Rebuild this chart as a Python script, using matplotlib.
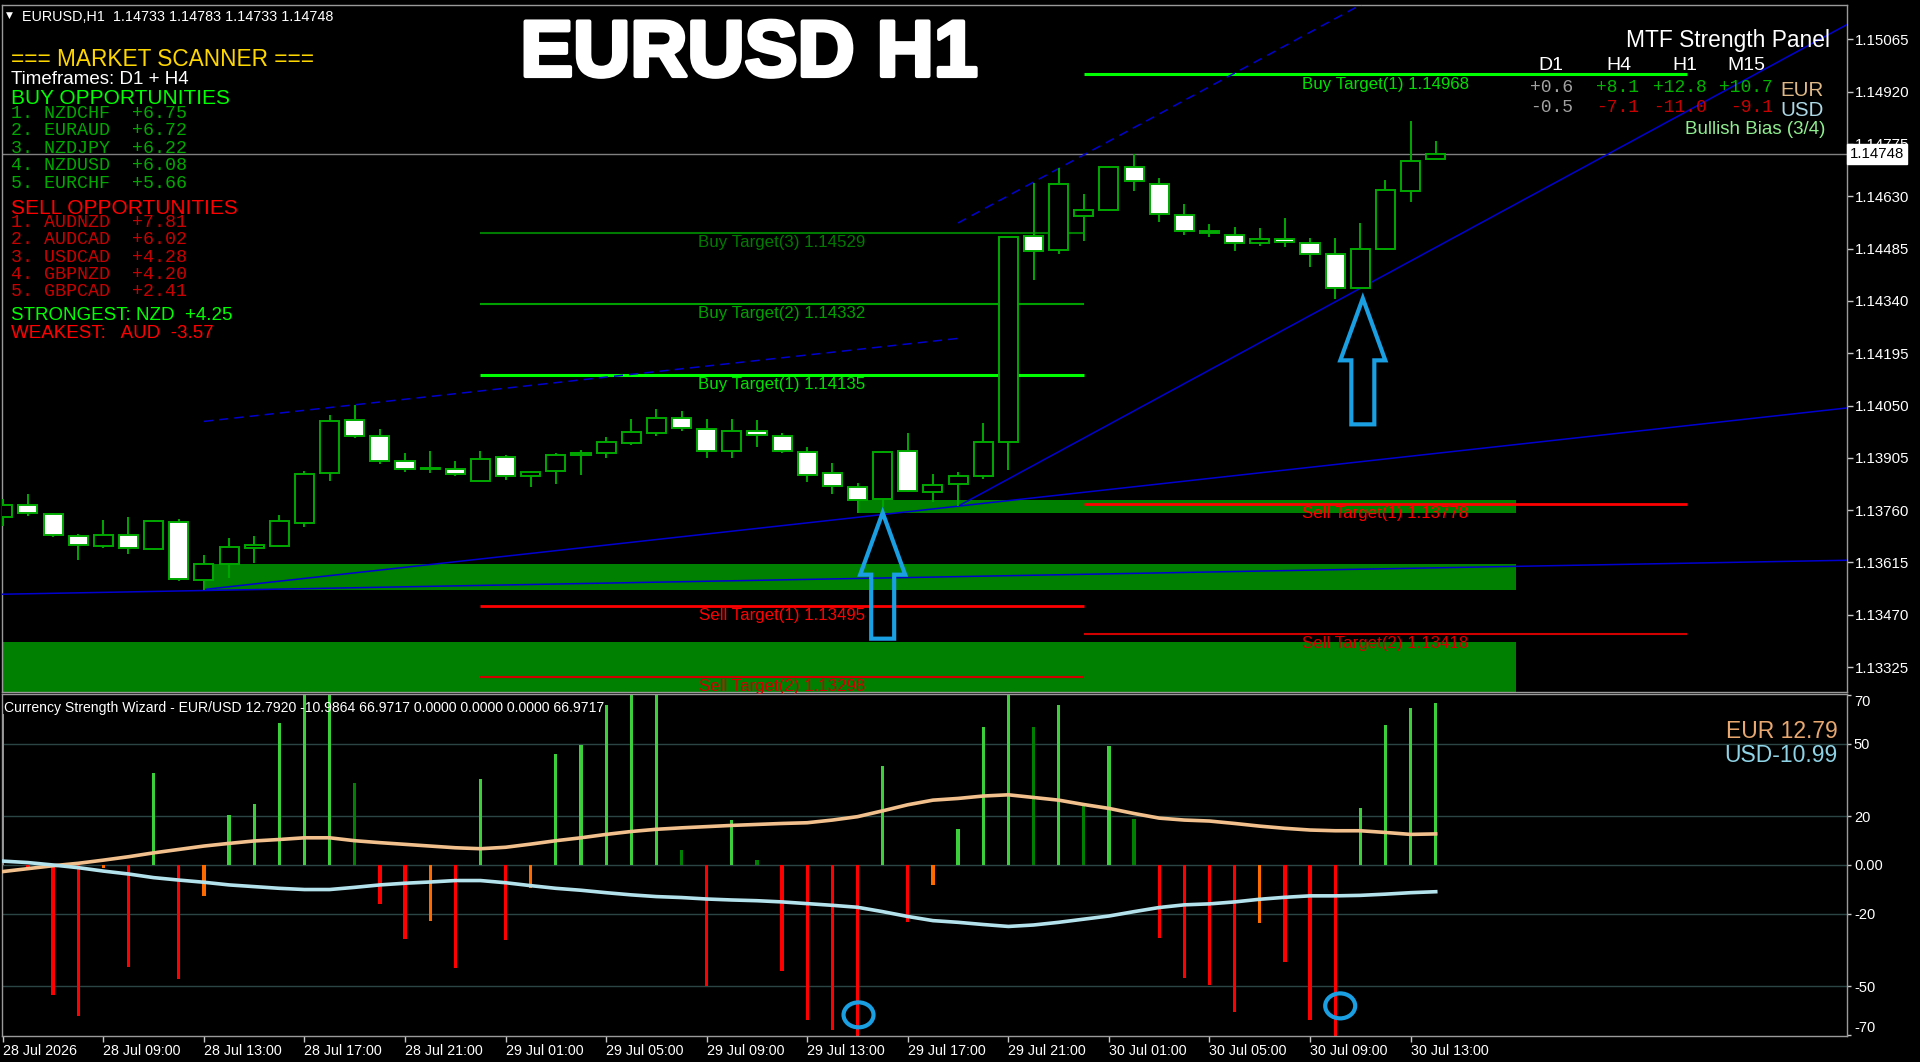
import matplotlib
matplotlib.use('Agg')
import matplotlib.pyplot as plt
from matplotlib.patches import Polygon, Ellipse
import matplotlib.patheffects as pe
import numpy as np

# ---------------- data ----------------
opens = [1.13740, 1.13774, 1.13748, 1.13689, 1.13662, 1.13692, 1.13652, 1.13728, 1.13566, 1.13612,
         1.13656, 1.13662, 1.13723, 1.13862, 1.14010, 1.13965, 1.13897, 1.13873, 1.13875, 1.13842,
         1.13908, 1.13855, 1.13868, 1.13912, 1.13918, 1.13947, 1.13973, 1.14014, 1.13986, 1.13923,
         1.13979, 1.13966, 1.13921, 1.13862, 1.13825, 1.13790, 1.13923, 1.13811, 1.13833, 1.13855,
         1.13948, 1.14520, 1.14480, 1.14575, 1.14591, 1.14712, 1.14664, 1.14578, 1.14534, 1.14523,
         1.14500, 1.14511, 1.14500, 1.14470, 1.14377, 1.14484, 1.14645, 1.14733]
highs = [1.13790, 1.13805, 1.13751, 1.13694, 1.13734, 1.13741, 1.13733, 1.13736, 1.13636, 1.13684,
         1.13688, 1.13746, 1.13869, 1.14024, 1.14052, 1.13985, 1.13919, 1.13924, 1.13896, 1.13924,
         1.13912, 1.13869, 1.13917, 1.13928, 1.13964, 1.14012, 1.14039, 1.14035, 1.14012, 1.14013,
         1.14009, 1.13975, 1.13934, 1.13890, 1.13836, 1.13925, 1.13975, 1.13860, 1.13866, 1.14002,
         1.14521, 1.14668, 1.14707, 1.14636, 1.14714, 1.14747, 1.14681, 1.14609, 1.14553, 1.14544,
         1.14541, 1.14569, 1.14515, 1.14513, 1.14555, 1.14675, 1.14839, 1.14783]
lows = [1.13716, 1.13744, 1.13686, 1.13622, 1.13654, 1.13638, 1.13649, 1.13564, 1.13540, 1.13571,
        1.13614, 1.13660, 1.13714, 1.13842, 1.13961, 1.13888, 1.13865, 1.13863, 1.13855, 1.13842,
        1.13843, 1.13825, 1.13832, 1.13857, 1.13905, 1.13941, 1.13966, 1.13979, 1.13905, 1.13905,
        1.13936, 1.13917, 1.13837, 1.13806, 1.13751, 1.13770, 1.13810, 1.13783, 1.13771, 1.13845,
        1.13870, 1.14398, 1.14469, 1.14506, 1.14590, 1.14645, 1.14559, 1.14522, 1.14516, 1.14479,
        1.14492, 1.14490, 1.14433, 1.14345, 1.14375, 1.14481, 1.14615, 1.14733]
closes = [1.13774, 1.13751, 1.13691, 1.13663, 1.13692, 1.13654, 1.13729, 1.13569, 1.13611, 1.13657,
          1.13664, 1.13729, 1.13860, 1.14006, 1.13965, 1.13896, 1.13873, 1.13878, 1.13860, 1.13901,
          1.13855, 1.13867, 1.13912, 1.13917, 1.13950, 1.13976, 1.14014, 1.13989, 1.13923, 1.13980,
          1.13969, 1.13923, 1.13857, 1.13827, 1.13788, 1.13921, 1.13814, 1.13831, 1.13854, 1.13948,
          1.14516, 1.14478, 1.14665, 1.14591, 1.14710, 1.14672, 1.14582, 1.14534, 1.14528, 1.14500,
          1.14511, 1.14502, 1.14469, 1.14377, 1.14485, 1.14647, 1.14729, 1.14748]

time_tick_bars = [0, 4, 8, 12, 16, 20, 24, 28, 32, 36, 40, 44, 48, 52, 56]
time_tick_labels = ["28 Jul 2026", "28 Jul 09:00", "28 Jul 13:00", "28 Jul 17:00", "28 Jul 21:00",
                    "29 Jul 01:00", "29 Jul 05:00", "29 Jul 09:00", "29 Jul 13:00", "29 Jul 17:00",
                    "29 Jul 21:00", "30 Jul 01:00", "30 Jul 05:00", "30 Jul 09:00", "30 Jul 13:00"]

price_ticks = [1.15065, 1.14920, 1.14775, 1.14630, 1.14485, 1.14340, 1.14195, 1.14050,
               1.13905, 1.13760, 1.13615, 1.13470, 1.13325]
last_price = 1.14748

# strength histogram (one bar per candle) and its kind
hist_vals = [62, -1.5, -53.4, -62.3, -1.4, -41.8, 38, -47, -12.6, 20.5,
             25.3, 58.6, 78, 78, 33.8, -16.2, -30.5, -22.9, -42.6, 35.6,
             -31, -9.6, 45.9, 49.3, 66, 78, 78, 6.2, -49.7, 18.5,
             2, -43.8, -64, -68, -78, 40.7, -23.6, -8.2, 15, 57,
             78, 56.8, 66, 25, 49, 18.8, -30, -46.6, -49.5, -60.7,
             -24, -40, -64, -78, 23.6, 57.5, 64.7, 66.8]
hist_kind = ['up', 'dn', 'dn', 'dn', 'dnw', 'dn', 'up', 'dn', 'dnw', 'up',
             'up', 'up', 'up', 'up', 'upw', 'dn', 'dn', 'dnw', 'dn', 'up',
             'dn', 'dnw', 'up', 'up', 'up', 'up', 'up', 'upw', 'dn', 'up',
             'upw', 'dn', 'dn', 'dn', 'dn', 'up', 'dn', 'dnw', 'up', 'up',
             'up', 'upw', 'up', 'upw', 'up', 'upw', 'dn', 'dn', 'dn', 'dn',
             'dnw', 'dn', 'dn', 'dn', 'up', 'up', 'up', 'up']
eur_line = [-2.7, -1.5, -0.3, 0.7, 2.0, 3.4, 5.0, 6.4, 7.8, 8.9, 9.9, 10.5, 11.2, 11.2, 10.0, 9.2,
            8.5, 7.8, 7.1, 6.7, 7.3, 8.6, 10.0, 11.2, 12.6, 13.8, 14.7, 15.3, 15.8, 16.3, 16.7, 17.1,
            17.4, 18.5, 19.9, 22.3, 24.8, 26.7, 27.4, 28.4, 28.9, 27.8, 26.7, 24.9, 23.3, 21.2, 19.3,
            18.5, 18.1, 17.1, 16.0, 15.1, 14.4, 14.1, 14.1, 13.4, 12.6, 12.8]
usd_line = [1.6, 1.0, 0.0, -1.1, -2.5, -3.7, -5.2, -6.2, -7.1, -8.2, -8.9, -9.6, -10.1, -10.1, -9.2,
            -8.2, -7.5, -7.0, -6.4, -6.4, -7.3, -8.5, -9.6, -10.4, -11.4, -12.3, -13.0, -13.4, -14.0,
            -14.4, -14.7, -15.2, -15.9, -16.6, -17.4, -19.2, -21.2, -22.9, -23.6, -24.5, -25.3, -24.7,
            -23.6, -22.3, -21.0, -19.2, -17.5, -16.4, -16.0, -15.2, -14.1, -13.3, -12.7, -12.7, -12.5,
            -12.0, -11.4, -11.0]
sub_ticks = [70, 50, 20, 0, -20, -50, -70]
sub_tick_labels = ["70", "50", "20", "0.00", "-20", "-50", "-70"]

# target lines: label, price, start bar, end bar, style key
targets = [("Buy Target(3) 1.14529", 1.14529, 19, 43, 'b3'),
           ("Buy Target(2) 1.14332", 1.14332, 19, 43, 'b2'),
           ("Buy Target(1) 1.14135", 1.14135, 19, 43, 'b1'),
           ("Sell Target(1) 1.13495", 1.13495, 19, 43, 's1'),
           ("Sell Target(2) 1.13298", 1.13298, 19, 43, 's2'),
           ("Buy Target(1) 1.14968", 1.14968, 43, 67, 'b1'),
           ("Sell Target(1) 1.13778", 1.13778, 43, 67, 's1'),
           ("Sell Target(2) 1.13418", 1.13418, 43, 67, 's2')]

# support zones
zone_start = [34, 8, -3]
zone_end = [60.2, 60.2, 60.2]
zone_lo = [1.13751, 1.13540, 1.13200]
zone_hi = [1.13787, 1.13612, 1.13394]

# trend lines: bar1, price1, bar2, price2, start bar, end bar (None = right edge), dashed
trend_lines = [(0, 1.13527, 60, 1.13604, -2, None, False),
               (8, 1.13540, 38, 1.13771, 8, None, False),
               (38, 1.13771, 54, 1.14375, 38, None, False),
               (8, 1.14006, 14, 1.14052, 8, 38, True),
               (38, 1.14556, 42, 1.14707, 38, None, True)]

# signal arrows (bar, tip price) and strength circles (bar, value)
arrow_bars = [35, 54.1]
arrow_tips = [1.13753, 1.14347]
circle_bars = [34.04, 53.2]
circle_vals = [-61.7, -58.0]

buy_list = ["1. NZDCHF  +6.75", "2. EURAUD  +6.72", "3. NZDJPY  +6.22", "4. NZDUSD  +6.08", "5. EURCHF  +5.66"]
sell_list = ["1. AUDNZD  +7.81", "2. AUDCAD  +6.02", "3. USDCAD  +4.28", "4. GBPNZD  +4.20", "5. GBPCAD  +2.41"]
mtf_cols = ["D1", "H4", "H1", "M15"]
mtf_eur = ["+0.6", "+8.1", "+12.8", "+10.7"]
mtf_usd = ["-0.5", "-7.1", "-11.0", "-9.1"]

# ---------------- figure ----------------
W, H = 1920, 1062
fig = plt.figure(figsize=(W / 100, H / 100), dpi=100, facecolor='black')
SANS = ['Liberation Sans', 'DejaVu Sans']
MONO = ['Liberation Mono', 'DejaVu Sans Mono']


def add_ax(x0, y0, x1, y1):
    a = fig.add_axes([x0 / W, 1 - y1 / H, (x1 - x0) / W, (y1 - y0) / H])
    a.set_facecolor('black')
    for s in a.spines.values():
        s.set_color('#9a9a9a')
        s.set_linewidth(1)
    return a


def ftext(x, y, s, **kw):
    kw.setdefault('va', 'center')
    kw.setdefault('family', SANS)
    return fig.text(x / W, 1 - y / H, s, **kw)


ax = add_ax(2, 5, 1847, 692)
ax2 = add_ax(2, 694, 1847, 1036)
XL, XR = -0.032, 73.36
YB, YT = 1.13256, 1.15160
for a in (ax, ax2):
    a.set_xlim(XL, XR)
ax.set_ylim(YB, YT)
ax2.set_ylim(-70.4, 70.4)

xpx = (XR - XL) / 1845.0
ppx = (YT - YB) / 687.0

x = np.arange(len(opens))
o = np.array(opens); c = np.array(closes); h = np.array(highs); l = np.array(lows)

# zones
for zs, ze, zl, zh in zip(zone_start, zone_end, zone_lo, zone_hi):
    ax.fill_between([zs, ze], zl, zh, color='#008000', lw=0, zorder=1)

# bid line
ax.axhline(last_price, color='#808080', lw=1, zorder=1.5)

# target lines
tstyle = {'b3': ('#007a00', 1.5, '#007a00'), 'b2': ('#00a000', 1.5, '#00a000'),
          'b1': ('#00ff00', 2.2, '#00e000'), 's1': ('#ff0000', 2.0, '#ff0000'),
          's2': ('#d00000', 1.5, '#d00000')}
for lab, p, xs, xe, key in targets:
    col, lw, tcol = tstyle[key]
    ax.hlines(p, xs, xe, color=col, lw=lw, zorder=3)
    ax.annotate(lab, xy=((xs + xe) / 2, p), xytext=(0, -10), textcoords='offset pixels',
                ha='center', va='center', color=tcol, fontsize=12.2, family=SANS, zorder=3)

# trend lines
for b1, p1, b2, p2, xs, xe, dashed in trend_lines:
    slope = (p2 - p1) / (b2 - b1)
    xx = np.array([xs, XR if xe is None else xe])
    yy = p1 + slope * (xx - b1)
    ax.plot(xx, yy, color='#0000d0', lw=1.1, zorder=3.5,
            ls=(0, (6, 4)) if dashed else '-')

# candles
edge = '#00a800'
ax.vlines(x, l, h, color=edge, lw=1.4, zorder=4)
bh = np.maximum(np.abs(c - o), 0.00004)
ax.bar(x, bh, bottom=np.minimum(o, c), width=0.76,
       color=['black' if cc >= oo else 'white' for oo, cc in zip(o, c)],
       edgecolor=edge, linewidth=1.4, zorder=5)

# arrows
arrow_shape = [(0, 0), (22.5, -62), (11.5, -62), (11.5, -126), (-11.5, -126), (-11.5, -62), (-22.5, -62)]
for ab, at in zip(arrow_bars, arrow_tips):
    pts = [(ab + dx * xpx, at + dy * ppx) for dx, dy in arrow_shape]
    ax.add_patch(Polygon(pts, closed=True, fill=False, edgecolor='#1a9fe3', lw=3, zorder=6,
                         joinstyle='miter'))

# y axis main
ax.yaxis.tick_right()
ax.set_yticks(price_ticks)
ax.set_yticklabels([f"{v:.5f}" for v in price_ticks])
ax.tick_params(axis='y', direction='out', length=4, width=1, color='#c8c8c8', labelcolor='white',
               labelsize=10.8, pad=2)
for t in ax.get_yticklabels():
    t.set_family(SANS)
ax.set_xticks([])

# ---------------- lower panel ----------------
for v in [50, 20, 0, -20, -50]:
    ax2.axhline(v, color='#2b4545', lw=1, zorder=0.5)
hcol = {'up': '#3ccf3c', 'upw': '#008000', 'dn': '#ff0000', 'dnw': '#ff6a00'}
ax2.bar(x, hist_vals, width=0.13, color=[hcol[k] for k in hist_kind], zorder=2)
ax2.plot(x, eur_line, color='#f2c08c', lw=2.6, zorder=3, solid_joinstyle='round')
ax2.plot(x, usd_line, color='#b4e2ec', lw=2.6, zorder=3, solid_joinstyle='round')
for cb, cv in zip(circle_bars, circle_vals):
    ax2.add_patch(Ellipse((cb, cv), width=30 * xpx, height=25 / 2.43, fill=False,
                          edgecolor='#1a9fe3', lw=3, zorder=4))

ax2.yaxis.tick_right()
ax2.set_yticks(sub_ticks)
ax2.set_yticklabels(sub_tick_labels)
ax2.tick_params(axis='y', direction='out', length=3, width=1, color='#c8c8c8', labelcolor='white',
                labelsize=10.5, pad=2)
ticks = ax2.yaxis.get_major_ticks()
for tk, v in zip(ticks, sub_ticks):
    tk.label2.set_family(SANS)
    if v == 70:
        tk.label2.set_va('top')
    elif v == -70:
        tk.label2.set_va('bottom')

ax2.set_xticks(time_tick_bars)
ax2.set_xticklabels(time_tick_labels, ha='left')
ax2.tick_params(axis='x', direction='out', length=4, width=1, color='#c8c8c8', labelcolor='white',
                labelsize=10.3, pad=2)
for t in ax2.get_xticklabels():
    t.set_family(SANS)

# ---------------- texts ----------------
ftext(6, 15, "\u25bc", color='white', fontsize=6.5, family=['DejaVu Sans'])
ftext(22, 17, "EURUSD,H1  1.14733 1.14783 1.14733 1.14748", color='white', fontsize=10.4)
ftext(749, 76, "EURUSD H1", color='white', fontsize=57, fontweight='bold', ha='center', va='baseline',
      path_effects=[pe.withStroke(linewidth=3, foreground='white')])

ftext(11, 60, "=== MARKET SCANNER ===", color='#ffd700', fontsize=16.3)
ftext(11, 79, "Timeframes: D1 + H4", color='white', fontsize=13.5)
ftext(11, 99, "BUY OPPORTUNITIES", color='#00ff00', fontsize=15)
for i, s in enumerate(buy_list):
    ftext(11, 113.5 + i * 17.4, s, color='#00a800', fontsize=13.2, family=MONO)
ftext(11, 208, "SELL OPPORTUNITIES", color='#ff0000', fontsize=15)
for i, s in enumerate(sell_list):
    ftext(11, 222.5 + i * 17.3, s, color='#c80000', fontsize=13.2, family=MONO)
ftext(11, 315, "STRONGEST: NZD  +4.25", color='#00ff00', fontsize=13.5)
ftext(11, 333, "WEAKEST:   AUD  -3.57", color='#ff0000', fontsize=13.5)

ftext(1830, 41, "MTF Strength Panel", color='white', fontsize=16.4, ha='right')
col_centers = [1551, 1619, 1685, 1746]
col_rights = [1573, 1639, 1707, 1773]
for cx, s in zip(col_centers, mtf_cols):
    ftext(cx, 65, s, color='white', fontsize=14, ha='center')
for i, (cr, se, su) in enumerate(zip(col_rights, mtf_eur, mtf_usd)):
    ftext(cr, 88, se, color='#a0a0a0' if i == 0 else '#00b400', fontsize=13, family=MONO, ha='right')
    ftext(cr, 108, su, color='#a0a0a0' if i == 0 else '#c80000', fontsize=13, family=MONO, ha='right')
ftext(1780, 90, "EUR", color='#deb887', fontsize=14.8)
ftext(1780, 110, "USD", color='#add8e6', fontsize=14.8)
ftext(1825, 130, "Bullish Bias (3/4)", color='#90ee90', fontsize=13.5, ha='right')

ftext(1850, 153.7, "1.14748", color='black', fontsize=10.8,
      bbox=dict(boxstyle='square,pad=0.2', facecolor='white', edgecolor='white'))

ftext(4, 708, "Currency Strength Wizard - EUR/USD 12.7920 -10.9864 66.9717 0.0000 0.0000 0.0000 66.9717",
      color='white', fontsize=10.1)
ftext(1838, 732, "EUR 12.79", color='#e8a870', fontsize=16.5, ha='right')
ftext(1838, 755, "USD-10.99", color='#8fd3e6', fontsize=16.5, ha='right')

fig.savefig('out.png', dpi=100, facecolor='black')
